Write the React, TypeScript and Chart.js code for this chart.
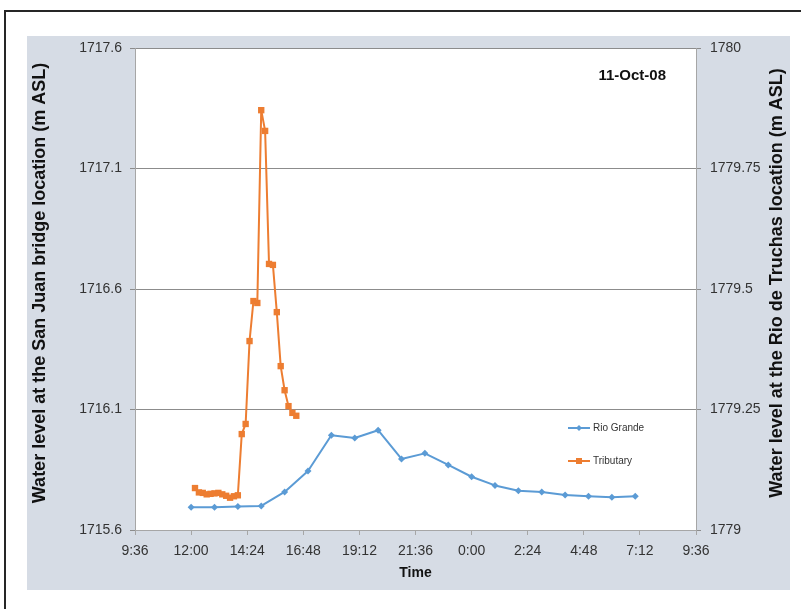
import React, { useEffect, useRef } from 'react';
import { Chart, registerables } from 'chart.js';

Chart.register(...registerables);

// ---- data ----
const rioGrandeTimes = ['12:00', '13:00', '14:00', '15:00', '16:00', '17:00', '18:00', '19:00', '20:00', '21:00', '22:00', '23:00', '0:00', '1:00', '2:00', '3:00', '4:00', '5:00', '6:00', '7:00'];
const rioGrandeLevels = [1715.694, 1715.694, 1715.698, 1715.700, 1715.758, 1715.845, 1715.993, 1715.982, 1716.014, 1715.895, 1715.918, 1715.870, 1715.821, 1715.785, 1715.763, 1715.758, 1715.745, 1715.740, 1715.736, 1715.740];

const tributaryTimes = ['12:10', '12:20', '12:30', '12:40', '12:50', '13:00', '13:10', '13:20', '13:30', '13:40', '13:50', '14:00', '14:10', '14:20', '14:30', '14:40', '14:50', '15:00', '15:10', '15:20', '15:30', '15:40', '15:50', '16:00', '16:10', '16:20', '16:30'];
const tributaryLevels = [1779.087, 1779.078, 1779.077, 1779.074, 1779.075, 1779.076, 1779.077, 1779.074, 1779.071, 1779.067, 1779.070, 1779.072, 1779.199, 1779.220, 1779.392, 1779.475, 1779.471, 1779.871, 1779.828, 1779.552, 1779.550, 1779.452, 1779.340, 1779.290, 1779.257, 1779.243, 1779.237];

const xTickLabels = ['9:36', '12:00', '14:24', '16:48', '19:12', '21:36', '0:00', '2:24', '4:48', '7:12', '9:36'];
const leftTickValues = [1715.6, 1716.1, 1716.6, 1717.1, 1717.6];
const leftTickLabels = ['1715.6', '1716.1', '1716.6', '1717.1', '1717.6'];
const rightTickValues = [1779, 1779.25, 1779.5, 1779.75, 1780];
const rightTickLabels = ['1779', '1779.25', '1779.5', '1779.75', '1780'];

const seriesNames = ['Rio Grande', 'Tributary'];
const dateLabel = '11-Oct-08';
const leftTitle = 'Water level at the San Juan bridge location (m ASL)';
const rightTitle = 'Water level at the Rio de Truchas location (m ASL)';
const xTitle = 'Time';

// time string -> hours on a continuous axis starting 9:36 on day 1
const toHours = (t: string): number => {
  const [h, m] = t.split(':').map(Number);
  let v = h + m / 60;
  if (v < 9.6) v += 24;
  return v;
};
const xTickHours = xTickLabels.map((t, i) => (i === xTickLabels.length - 1 ? toHours(t) + 24 : toHours(t)));

const FONT = "'Liberation Sans', Arial, sans-serif";
const BLUE = '#5b9bd5';
const ORANGE = '#ed7d31';
const GRID = '#8c8c8c';
const AXIS = '#a6a6a6';
const TEXT = '#333333';

const decorPlugin = {
  id: 'decor',
  beforeDraw(chart: any) {
    const { ctx, chartArea } = chart;
    ctx.save();
    ctx.fillStyle = '#ffffff';
    ctx.fillRect(chartArea.left, chartArea.top, chartArea.right - chartArea.left, chartArea.bottom - chartArea.top);
    ctx.restore();
  },
  afterDraw(chart: any) {
    const { ctx, chartArea } = chart;
    const midY = (chartArea.top + chartArea.bottom) / 2 - 6;
    ctx.save();
    ctx.fillStyle = '#111111';
    ctx.font = `bold 18px ${FONT}`;
    ctx.textAlign = 'center';
    ctx.textBaseline = 'middle';
    // left title
    ctx.save();
    ctx.translate(13, midY);
    ctx.rotate(-Math.PI / 2);
    ctx.fillText(leftTitle, 0, 0);
    ctx.restore();
    // right title
    ctx.save();
    ctx.translate(750, midY);
    ctx.rotate(-Math.PI / 2);
    ctx.fillText(rightTitle, 0, 0);
    ctx.restore();
    // x title
    ctx.font = `bold 14px ${FONT}`;
    ctx.fillText(xTitle, (chartArea.left + chartArea.right) / 2, 537);
    // date label
    ctx.font = `bold 15px ${FONT}`;
    ctx.textAlign = 'right';
    ctx.fillText(dateLabel, chartArea.right - 30, chartArea.top + 28);

    // legend
    const items = chart.data.datasets;
    const lx = chartArea.right - 128;
    const ys = [392, 425];
    ctx.font = `10px ${FONT}`;
    ctx.textAlign = 'left';
    items.forEach((ds: any, i: number) => {
      const y = ys[i];
      ctx.strokeStyle = ds.borderColor;
      ctx.lineWidth = 2;
      ctx.beginPath();
      ctx.moveTo(lx, y);
      ctx.lineTo(lx + 22, y);
      ctx.stroke();
      ctx.fillStyle = ds.borderColor;
      const cx = lx + 11;
      if (ds.pointStyle === 'rect') {
        ctx.fillRect(cx - 3, y - 3, 6, 6);
      } else {
        ctx.beginPath();
        ctx.moveTo(cx, y - 3);
        ctx.lineTo(cx + 3, y);
        ctx.lineTo(cx, y + 3);
        ctx.lineTo(cx - 3, y);
        ctx.closePath();
        ctx.fill();
      }
      ctx.fillStyle = TEXT;
      ctx.textBaseline = 'middle';
      ctx.fillText(ds.label, lx + 25, y);
    });
    ctx.restore();
  },
};

export default function App() {
  const ref = useRef<HTMLCanvasElement | null>(null);
  useEffect(() => {
    if (!ref.current) return;
    const tickFont = { family: FONT, size: 14 };
    const noPad = (s: any) => {
      s.paddingTop = 0;
      s.paddingBottom = 0;
      s.paddingLeft = 0;
      s.paddingRight = 0;
    };
    const chart = new Chart(ref.current, {
      type: 'line',
      data: {
        datasets: [
          {
            label: seriesNames[0],
            data: rioGrandeTimes.map((t, i) => ({ x: toHours(t), y: rioGrandeLevels[i] })),
            yAxisID: 'y',
            borderColor: BLUE,
            backgroundColor: BLUE,
            borderWidth: 2,
            borderJoinStyle: 'round',
            pointStyle: 'rectRot',
            pointRadius: 3.5,
            pointBorderWidth: 0,
            tension: 0,
          },
          {
            label: seriesNames[1],
            data: tributaryTimes.map((t, i) => ({ x: toHours(t), y: tributaryLevels[i] })),
            yAxisID: 'y1',
            borderColor: ORANGE,
            backgroundColor: ORANGE,
            borderWidth: 2,
            borderJoinStyle: 'round',
            pointStyle: 'rect',
            pointRadius: 4.5,
            pointBorderWidth: 0,
            tension: 0,
          },
        ],
      },
      options: {
        responsive: false,
        animation: false,
        layout: { padding: { top: 12, left: 0, right: 0, bottom: 0 } },
        plugins: { legend: { display: false }, tooltip: { enabled: false } },
        scales: {
          x: {
            type: 'linear',
            min: xTickHours[0],
            max: xTickHours[xTickHours.length - 1],
            afterBuildTicks: (s: any) => {
              s.ticks = xTickHours.map((v) => ({ value: v }));
            },
            afterFit: (s: any) => {
              noPad(s);
              s.height = 60;
            },
            ticks: {
              autoSkip: false,
              maxRotation: 0,
              font: tickFont,
              color: TEXT,
              padding: 8,
              callback: (_v: any, i: number) => xTickLabels[i],
            },
            grid: { drawOnChartArea: false, drawTicks: true, tickLength: 5, color: AXIS },
            border: { display: true, color: AXIS },
          },
          y: {
            type: 'linear',
            position: 'left',
            min: leftTickValues[0],
            max: leftTickValues[leftTickValues.length - 1],
            afterBuildTicks: (s: any) => {
              s.ticks = leftTickValues.map((v) => ({ value: v }));
            },
            afterFit: (s: any) => {
              noPad(s);
              s.width = 108;
            },
            ticks: {
              font: tickFont,
              color: TEXT,
              padding: 8,
              callback: (_v: any, i: number) => leftTickLabels[i],
            },
            grid: { drawOnChartArea: true, drawTicks: true, tickLength: 5, color: GRID },
            border: { display: true, color: AXIS },
          },
          y1: {
            type: 'linear',
            position: 'right',
            min: rightTickValues[0],
            max: rightTickValues[rightTickValues.length - 1],
            afterBuildTicks: (s: any) => {
              s.ticks = rightTickValues.map((v) => ({ value: v }));
            },
            afterFit: (s: any) => {
              noPad(s);
              s.width = 94;
            },
            ticks: {
              font: tickFont,
              color: TEXT,
              padding: 9,
              callback: (_v: any, i: number) => rightTickLabels[i],
            },
            grid: { drawOnChartArea: false, drawTicks: true, tickLength: 5, color: GRID },
            border: { display: true, color: AXIS },
          },
        },
      },
      plugins: [decorPlugin],
    } as any);
    return () => chart.destroy();
  }, []);

  return (
    <div style={{ position: 'fixed', left: 0, top: 0, right: 0, bottom: 0, overflow: 'hidden', background: '#ffffff' }}>
      <div
        style={{
          position: 'absolute',
          left: 4,
          top: 10,
          width: 900,
          height: 700,
          border: '2px solid #262626',
          boxSizing: 'border-box',
        }}
      />
      <div style={{ position: 'absolute', left: 27, top: 36, width: 763, height: 554, background: '#d6dce5' }}>
        <canvas ref={ref} width={763} height={554} style={{ display: 'block', width: 763, height: 554 }} />
      </div>
    </div>
  );
}
